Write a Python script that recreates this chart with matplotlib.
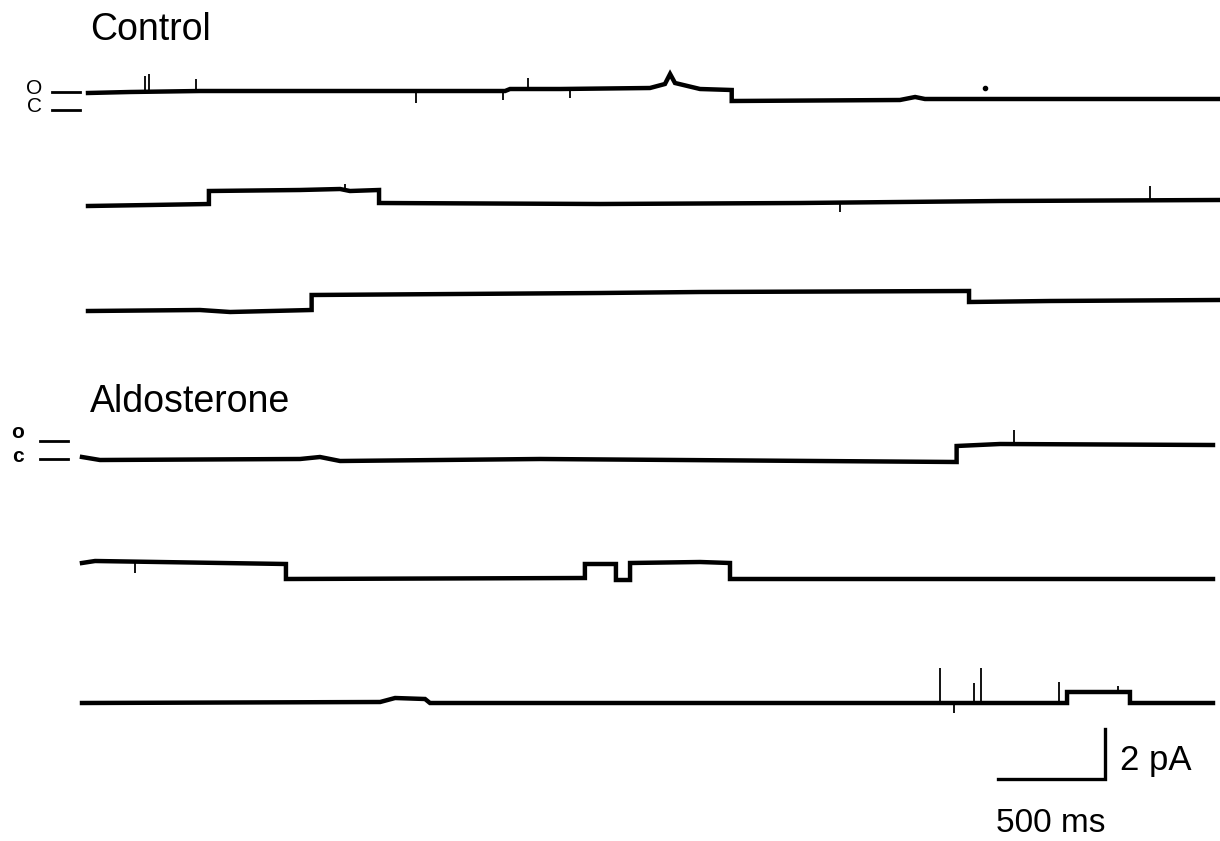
import matplotlib
matplotlib.use("Agg")
import matplotlib.pyplot as plt
import numpy as np

plt.rcParams['font.family'] = ['Liberation Sans', 'DejaVu Sans']

# trace data: time (ms from trace start), current (pA above trace baseline)
ctrl1_t = [0, 196, 523, 1949, 1972, 2206, 2626, 2696, 2720, 2743, 2860, 3008, 3008, 3794, 3865, 3911, 5281]
ctrl1_i = [0.32, 0.36, 0.40, 0.40, 0.48, 0.48, 0.52, 0.68, 1.08, 0.72, 0.48, 0.44, 0.0, 0.04, 0.16, 0.08, 0.08]
ctrl1_spk_t = [266, 285, 505, 1533, 1939, 2056, 2252]
ctrl1_spk_i = [1.0, 1.08, 0.88, -0.08, 0.04, 0.92, 0.12]

ctrl2_t = [0, 290, 565, 565, 991, 1178, 1224, 1360, 1360, 2393, 3327, 4262, 5281]
ctrl2_i = [-0.04, 0.0, 0.04, 0.56, 0.60, 0.64, 0.56, 0.60, 0.08, 0.04, 0.08, 0.16, 0.20]
ctrl2_spk_t = [1201, 3514, 4963]
ctrl2_spk_i = [0.84, -0.28, 0.76]

ctrl3_t = [0, 523, 664, 1045, 1045, 2393, 2860, 4117, 4117, 4495, 5281]
ctrl3_i = [0.0, 0.04, -0.04, 0.04, 0.64, 0.72, 0.76, 0.80, 0.36, 0.40, 0.44]
ctrl3_spk_t = []
ctrl3_spk_i = []

aldo1_t = [0, 84, 1019, 1112, 1206, 2140, 4087, 4087, 4290, 5285]
aldo1_i = [0.20, 0.08, 0.12, 0.20, 0.04, 0.12, 0.0, 0.64, 0.72, 0.68]
aldo1_spk_t = [4355]
aldo1_spk_i = [1.28]

aldo2_t = [0, 61, 953, 953, 2350, 2350, 2495, 2495, 2561, 2561, 2888, 3028, 3028, 5285]
aldo2_i = [0.64, 0.72, 0.60, 0.0, 0.04, 0.60, 0.60, -0.04, -0.04, 0.64, 0.68, 0.64, 0.0, 0.0]
aldo2_spk_t = [248]
aldo2_spk_i = [0.24]

aldo3_t = [0, 1393, 1463, 1603, 1626, 4603, 4603, 4897, 4897, 5285]
aldo3_i = [0.0, 0.04, 0.20, 0.16, 0.0, 0.0, 0.44, 0.44, 0.0, 0.0]
aldo3_spk_t = [4009, 4075, 4168, 4200, 4565, 4841]
aldo3_spk_i = [1.40, -0.40, 0.80, 1.40, 0.84, 0.68]

speck_t = [4192]
speck_i = [0.52]

scale_ms = 500
scale_pA = 2

# layout (pixel based)
W, H = 1220, 841
PX_PER_MS = 107 / 500
PX_PER_PA = 25


def ms(px):
    return px / PX_PER_MS


def pa(py):
    return -py / PX_PER_PA


fig = plt.figure(figsize=(W / 100, H / 100), dpi=100)
ax = fig.add_axes([0, 0, 1, 1])
ax.set_xlim(0, ms(W))
ax.set_ylim(pa(H), 0)
ax.axis('off')

traces = [
    (ctrl1_t, ctrl1_i, ctrl1_spk_t, ctrl1_spk_i, 88, 101),
    (ctrl2_t, ctrl2_i, ctrl2_spk_t, ctrl2_spk_i, 88, 205),
    (ctrl3_t, ctrl3_i, ctrl3_spk_t, ctrl3_spk_i, 88, 311),
    (aldo1_t, aldo1_i, aldo1_spk_t, aldo1_spk_i, 82, 462),
    (aldo2_t, aldo2_i, aldo2_spk_t, aldo2_spk_i, 82, 579),
    (aldo3_t, aldo3_i, aldo3_spk_t, aldo3_spk_i, 82, 703),
]

for t, i, st, si, x0, y0 in traces:
    t = np.array(t) + ms(x0)
    i = np.array(i) + pa(y0)
    ax.plot(t, i, color='black', lw=3.2, solid_joinstyle='miter')
    if st:
        st = np.array(st) + ms(x0)
        base = np.interp(st, t, i)
        ax.vlines(st, base, np.array(si) + pa(y0), color='black', lw=1.3)

ax.plot(np.array(speck_t) + ms(88), np.array(speck_i) + pa(101), 'o',
        color='black', ms=3)

# o / c level markers
ax.plot([ms(52), ms(80)], [pa(92), pa(92)], color='black', lw=2)
ax.plot([ms(52), ms(80)], [pa(110), pa(110)], color='black', lw=2)
ax.text(ms(34), pa(88), 'O', fontsize=15, ha='center', va='center')
ax.text(ms(34), pa(107), 'C', fontsize=15, ha='center', va='center')

ax.plot([ms(40), ms(68)], [pa(441), pa(441)], color='black', lw=2)
ax.plot([ms(40), ms(68)], [pa(459), pa(459)], color='black', lw=2)
ax.text(ms(18), pa(433), 'o', fontsize=15, fontweight='bold', ha='center', va='center')
ax.text(ms(18), pa(457), 'c', fontsize=15, fontweight='bold', ha='center', va='center')

ax.text(ms(90), pa(40), 'Control', fontsize=27, ha='left', va='baseline')
ax.text(ms(90), pa(412), 'Aldosterone', fontsize=27, ha='left', va='baseline')

# scale bar
sx, sy = ms(998), pa(779)
ax.plot([sx, sx + scale_ms, sx + scale_ms], [sy, sy, sy + scale_pA],
        color='black', lw=2.4, solid_joinstyle='miter')
ax.text(ms(1120), pa(770), '2 pA', fontsize=25, ha='left', va='baseline')
ax.text(ms(996), pa(832), '500 ms', fontsize=24, ha='left', va='baseline')

fig.savefig('out.png', dpi=100)
